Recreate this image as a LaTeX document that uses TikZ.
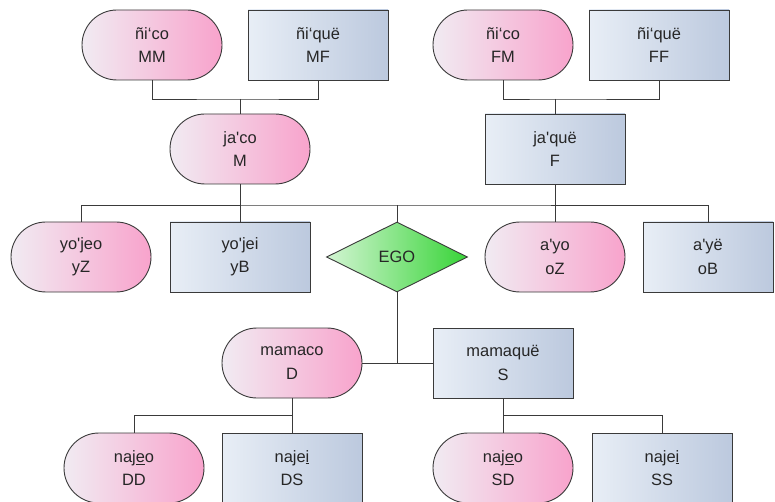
\documentclass[tikz,border=0pt]{standalone}
\usepackage{fontspec}
\setmainfont{Liberation Sans}[Ligatures=TeXOff]
\usetikzlibrary{shapes.geometric,shapes.misc}

\definecolor{edge}{HTML}{3A3A3A}
\definecolor{pillL}{HTML}{F1EBF2}
\definecolor{pillR}{HTML}{F8A3CC}
\definecolor{rectL}{HTML}{E8EEF6}
\definecolor{rectR}{HTML}{BCC9DE}
\definecolor{egoL}{HTML}{D3F5D3}
\definecolor{egoR}{HTML}{38D438}

\begin{document}
\begin{tikzpicture}[x=1bp,y=-1bp,
  box/.style={draw=edge, line width=0.9bp, minimum width=140bp, minimum height=70bp,
              inner sep=0pt, align=center, text=black!85,
              font=\fontsize{16.5}{23.5}\selectfont},
  pill/.style={box, rounded rectangle, left color=pillL, right color=pillR},
  kin/.style={box, rectangle, left color=rectL, right color=rectR},
  ego/.style={box, diamond, aspect=2, minimum width=141bp, minimum height=70bp,
              left color=egoL, right color=egoR},
  link/.style={draw=edge, line width=0.9bp}]

\fill[white] (0,0) rectangle (775,502);
\useasboundingbox (0,0) rectangle (775,502);

% grandparents
\node[pill] (MM) at (152,45) {ñi‘co\\MM};
\node[kin]  (MF) at (318,45) {ñi‘quë\\MF};
\node[pill] (FM) at (503,45) {ñi‘co\\FM};
\node[kin]  (FF) at (659,45) {ñi‘quë\\FF};

% parents
\node[pill] (M) at (240,149) {ja'co\\M};
\node[kin]  (F) at (555,149) {ja'quë\\F};

% siblings and ego
\node[pill] (yZ) at (81,257) {yo'jeo\\yZ};
\node[kin]  (yB) at (240,257) {yo'jei\\yB};
\node[ego]  (EGO) at (397,257) {EGO};
\node[pill] (oZ) at (555,257) {a'yo\\oZ};
\node[kin, minimum width=130bp] (oB) at (708,257) {a'yë\\oB};

% children
\node[pill] (D) at (292,363) {mamaco\\D};
\node[kin]  (S) at (503,363) {mamaquë\\S};

% grandchildren
\node[pill] (DD) at (134,468) {naj\underline{e}o\\DD};
\node[kin]  (DS) at (292,468) {naje\underline{i}\\DS};
\node[pill] (SD) at (503,468) {naj\underline{e}o\\SD};
\node[kin]  (SS) at (662,468) {naje\underline{i}\\SS};

% junction points
\coordinate (jM) at (240,99);
\coordinate (jF) at (555,99);
\coordinate (jS) at (397,205);
\coordinate (jD) at (292,415);
\coordinate (jC) at (503,415);

% connectors
\draw[link] (MM.south) |- (jM) -| (MF.south);
\draw[link] (jM) -- (M.north);
\draw[link] (FM.south) |- (jF) -| (FF.south);
\draw[link] (jF) -- (F.north);

\draw[link] (yZ.north) |- (jS) -| (oB.north);
\draw[link] (M.south) -- (M.south |- jS);
\draw[link] (F.south) -- (F.south |- jS);
\draw[link] (yB.north) -- (yB.north |- jS);
\draw[link] (oZ.north) -- (oZ.north |- jS);
\draw[link] (EGO.north) -- (jS);

\draw[link] (D.east) -- (S.west);
\draw[link] (EGO.south) -- (EGO.south |- D.east);

\draw[link] (D.south) -- (jD);
\draw[link] (DD.north) |- (jD) -- (DS.north);
\draw[link] (S.south) -- (jC);
\draw[link] (SD.north) -- (jC) -| (SS.north);
\end{tikzpicture}
\end{document}
